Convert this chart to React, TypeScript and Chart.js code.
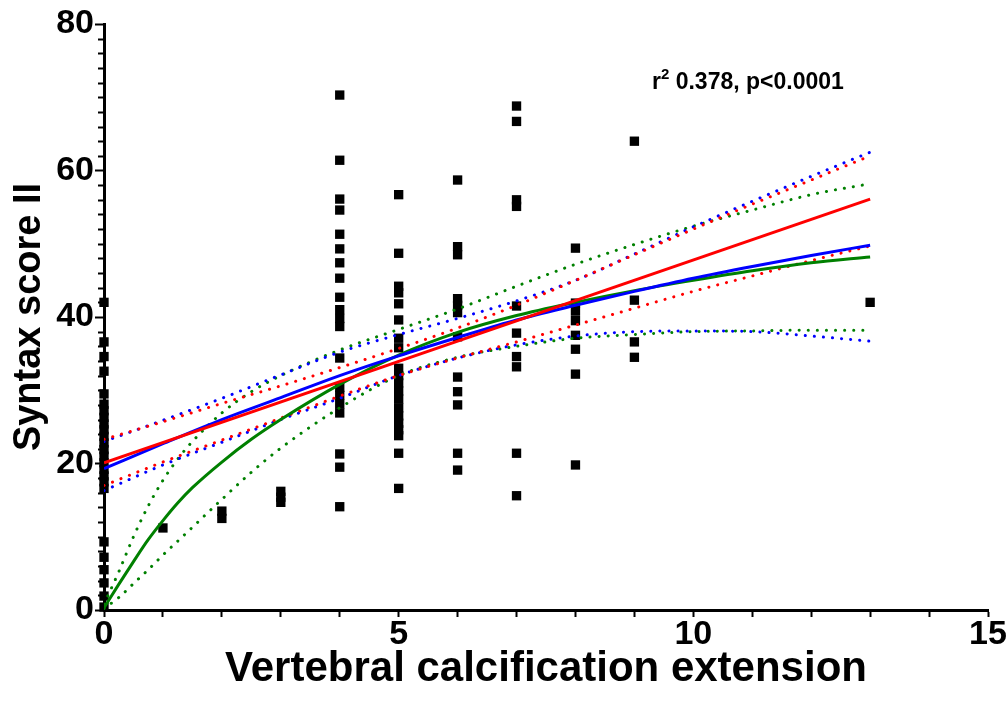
import React, { useEffect, useRef } from 'react';
import { Chart, registerables } from 'chart.js';

Chart.register(...registerables);

// ---- Scatter data: one array of y values per x column ----
const columnX = [0, 1, 2, 3, 4, 5, 6, 7, 8, 9, 13];
const col0 = [42, 36.6, 34.6, 32.6, 29.5, 28.1, 27.2, 26.3, 25.4, 24.6, 23.7, 22.8, 21.9, 21.0, 20.1, 19.2, 18.3, 17.5, 16.6, 9.3, 7.2, 5.5, 3.7, 1.9, 0.4];
const col1 = [11.2];
const col2 = [13.5, 12.5];
const col3 = [16.2, 15.4, 14.7];
const col4 = [70.3, 61.4, 56.1, 54.6, 51.3, 49.3, 47.4, 45.3, 42.7, 41.0, 39.8, 38.7, 34.4, 30.4, 29.3, 28.1, 26.9, 21.3, 19.5, 14.1];
const col5 = [56.7, 48.7, 44.2, 43.3, 41.8, 39.6, 37.1, 35.8, 33.0, 32.0, 31.0, 29.9, 28.8, 27.6, 26.5, 25.5, 24.6, 23.8, 21.4, 16.6];
const col6 = [58.7, 49.6, 48.5, 42.5, 41.6, 40.6, 37.3, 31.8, 29.8, 28.0, 21.4, 19.1];
const col7 = [68.8, 66.7, 56.0, 55.1, 41.5, 37.8, 34.6, 33.2, 21.4, 15.6];
const col8 = [49.4, 41.9, 40.8, 39.5, 37.5, 35.6, 32.2, 19.8];
const col9 = [64.0, 42.3, 36.6, 34.5];
const col13 = [42.0];
const columns = [col0, col1, col2, col3, col4, col5, col6, col7, col8, col9, col13];

// ---- Linear fit (red) ----
const linX = [0, 13];
const linFit = [20.1, 56.1];
const ciX = [0, 1, 2, 3, 4, 5, 6, 7, 8, 9, 10, 11, 12, 13];
const linUpper = [23.3, 25.7, 28.2, 30.6, 33.1, 35.7, 38.5, 41.6, 45.0, 48.5, 52.0, 55.4, 58.7, 62.0];
const linLower = [17.0, 20.2, 23.2, 26.2, 29.2, 32.0, 34.4, 36.6, 38.9, 41.2, 43.5, 45.6, 47.7, 49.7];

// ---- Quadratic fit (blue) ----
const quadFit = [19.3, 22.7, 26.0, 29.0, 32.0, 34.7, 37.2, 39.6, 41.6, 43.5, 45.3, 46.9, 48.4, 49.8];
const quadUpper = [23.0, 25.9, 28.9, 32.1, 35.2, 37.6, 39.8, 42.2, 45.0, 48.6, 52.3, 55.8, 59.2, 62.5];
const quadLower = [16.3, 19.8, 22.9, 26.0, 28.9, 32.0, 34.4, 36.2, 37.4, 38.0, 38.1, 38.0, 37.4, 36.7];

// ---- One-phase (exponential) fit (green) ----
const expX = [0, 0.25, 0.5, 0.75, 1, 1.25, 1.5, 2, 2.5, 3, 4, 5, 6, 7, 8, 9, 10, 11, 12, 13];
const expFit = [0.3, 3.5, 6.6, 9.6, 12.2, 14.6, 16.7, 20.2, 23.3, 26.0, 30.8, 34.8, 37.9, 40.2, 42.0, 43.6, 45.0, 46.3, 47.4, 48.2];
const expUpper = [0.8, 5.2, 10.0, 14.2, 17.7, 20.6, 23.0, 26.9, 29.8, 32.0, 35.5, 38.3, 41.1, 44.2, 47.2, 49.9, 52.4, 54.6, 56.7, 58.2];
const expLower = [0.2, 1.7, 3.6, 5.5, 7.5, 9.4, 11.3, 15.1, 18.8, 22.1, 27.6, 32.0, 34.5, 36.0, 37.1, 37.6, 38.0, 38.1, 38.2, 38.2];

const xTickLabels = [0, 5, 10, 15];
const yTickLabels = [0, 20, 40, 60, 80];

const RED = '#ff0000';
const BLUE = '#0000ff';
const GREEN = '#008000';

const FONT = '"Liberation Sans", Arial, sans-serif';

function pts(xs: number[], ys: number[]) {
  return xs.map((x, i) => ({ x, y: ys[i] }));
}

const solid = (label: string, color: string, data: any[]) => ({
  type: 'line' as const,
  label,
  data,
  borderColor: color,
  backgroundColor: color,
  borderWidth: 3,
  pointRadius: 0,
  fill: false,
  cubicInterpolationMode: 'monotone' as const,
});

const dotted = (label: string, color: string, data: any[]) => ({
  type: 'line' as const,
  label,
  data,
  borderColor: color,
  backgroundColor: color,
  borderWidth: 3,
  borderDash: [0.1, 9],
  borderCapStyle: 'round' as const,
  pointRadius: 0,
  fill: false,
  cubicInterpolationMode: 'monotone' as const,
});

const minorTicks = {
  id: 'minorTicks',
  afterDatasetsDraw(chart: any) {
    const ctx = chart.ctx;
    const ys = chart.scales.y;
    const left = chart.chartArea.left;
    ctx.save();
    ctx.strokeStyle = '#000';
    ctx.lineWidth = 2;
    for (let v = 0; v <= 80; v += 2) {
      if (yTickLabels.includes(v)) continue;
      const py = Math.round(ys.getPixelForValue(v)) + 0.5;
      ctx.beginPath();
      ctx.moveTo(left - 6, py);
      ctx.lineTo(left, py);
      ctx.stroke();
    }
    ctx.restore();
  },
};

const annotation = {
  id: 'annotation',
  afterDraw(chart: any) {
    const ctx = chart.ctx;
    ctx.save();
    ctx.fillStyle = '#000';
    ctx.textBaseline = 'alphabetic';
    ctx.textAlign = 'left';
    let x = 652;
    const y = 89;
    ctx.font = `bold 23px ${FONT}`;
    ctx.fillText('r', x, y);
    x += ctx.measureText('r').width;
    ctx.font = `bold 15px ${FONT}`;
    ctx.fillText('2', x, y - 10);
    x += ctx.measureText('2').width;
    ctx.font = `bold 23px ${FONT}`;
    ctx.fillText(' 0.378, p<0.0001', x, y);
    ctx.restore();
  },
};

export default function App() {
  const ref = useRef<HTMLCanvasElement | null>(null);

  useEffect(() => {
    document.body.style.margin = '0';
    const canvas = ref.current;
    if (!canvas) return;

    const scatterData: { x: number; y: number }[] = [];
    columns.forEach((col, i) => col.forEach((y) => scatterData.push({ x: columnX[i], y })));

    const chart = new Chart(canvas, {
      type: 'scatter',
      data: {
        datasets: [
          solid('Linear', RED, pts(linX, linFit)),
          solid('Quadratic', BLUE, pts(ciX, quadFit)),
          solid('One phase', GREEN, pts(expX, expFit)),
          dotted('Linear upper', RED, pts(ciX, linUpper)),
          dotted('Linear lower', RED, pts(ciX, linLower)),
          dotted('Quadratic upper', BLUE, pts(ciX, quadUpper)),
          dotted('Quadratic lower', BLUE, pts(ciX, quadLower)),
          dotted('One phase upper', GREEN, pts(expX, expUpper)),
          dotted('One phase lower', GREEN, pts(expX, expLower)),
          {
            type: 'scatter' as const,
            label: 'Patients',
            data: scatterData,
            pointStyle: 'rect',
            pointRadius: 6.6,
            pointBackgroundColor: '#000',
            pointBorderColor: '#000',
            pointBorderWidth: 0,
            clip: false as any,
          },
        ] as any,
      },
      options: {
        responsive: false,
        animation: false,
        events: [],
        layout: { padding: { left: 0, right: 20, top: 24, bottom: 0 } },
        plugins: {
          legend: { display: false },
          tooltip: { enabled: false },
        },
        scales: {
          x: {
            type: 'linear',
            min: 0,
            max: 15,
            afterFit: (s: any) => { s.height = 98; },
            border: { display: true, color: '#000', width: 3 },
            grid: {
              display: true,
              drawOnChartArea: false,
              drawTicks: true,
              tickLength: 7,
              tickWidth: 2,
              tickColor: '#000',
            },
            ticks: {
              stepSize: 1,
              autoSkip: false,
              maxRotation: 0,
              padding: 1,
              color: '#000',
              font: { family: FONT, size: 34, weight: 'bold', lineHeight: 1.0 },
              callback: (v: any) => (xTickLabels.includes(Number(v)) ? String(v) : ''),
            },
            title: {
              display: true,
              text: 'Vertebral calcification extension',
              color: '#000',
              font: { family: FONT, size: 42, weight: 'bold', lineHeight: 1.2 },
              padding: { top: 0, bottom: 13 },
            },
          },
          y: {
            type: 'linear',
            min: 0,
            max: 80,
            afterFit: (s: any) => { s.width = 104; },
            border: { display: true, color: '#000', width: 3 },
            grid: {
              display: true,
              drawOnChartArea: false,
              drawTicks: true,
              tickLength: 9,
              tickWidth: 2,
              tickColor: (c: any) => (c.tick && yTickLabels.includes(c.tick.value) ? '#000' : 'rgba(0,0,0,0)'),
            },
            ticks: {
              stepSize: 2,
              autoSkip: false,
              padding: 1,
              color: '#000',
              font: { family: FONT, size: 34, weight: 'bold', lineHeight: 1.0 },
              callback: (v: any) => (yTickLabels.includes(Number(v)) ? String(v) : ''),
            },
            title: {
              display: true,
              text: 'Syntax score II',
              color: '#000',
              font: { family: FONT, size: 38, weight: 'bold', lineHeight: 1.2 },
              padding: { top: 7, bottom: 0 },
            },
          },
        },
      } as any,
      plugins: [minorTicks, annotation],
    });

    return () => chart.destroy();
  }, []);

  return (
    <div style={{ position: 'absolute', left: 0, top: 0, width: 1008, height: 708 }}>
      <canvas ref={ref} width={1008} height={708} style={{ width: 1008, height: 708, display: 'block' }} />
    </div>
  );
}
